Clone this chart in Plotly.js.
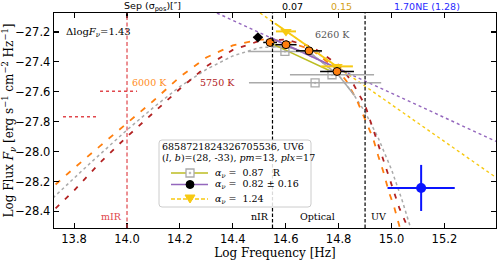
<!DOCTYPE html>
<html>
<head>
<meta charset="utf-8">
<script src="https://cdn.plot.ly/plotly-3.0.1.min.js"></script>
<style>html,body{margin:0;padding:0;background:#fff;} #chart{width:498px;height:261px;}</style>
</head>
<body>
<div id="chart"></div>
<script>
// ---- Blackbody-like model curves ----
const bb6260LogNu = [13.72, 13.85, 14.0, 14.1, 14.2, 14.3, 14.4, 14.5, 14.6, 14.7, 14.8, 14.85, 14.9, 14.95, 15.0, 15.04, 15.08];
const bb6260LogF  = [-28.31, -28.095, -27.855, -27.705, -27.565, -27.45, -27.36, -27.305, -27.295, -27.35, -27.49, -27.60, -27.735, -27.91, -28.12, -28.325, -28.555];
const bb6260SolidNu = [14.55, 14.6, 14.7, 14.8, 14.86];
const bb6260SolidF  = [-27.30, -27.295, -27.35, -27.49, -27.625];

const bb6000LogNu = [13.73, 13.8, 13.9, 14.0, 14.1, 14.2, 14.3, 14.4, 14.5, 14.6, 14.7, 14.8, 14.83, 14.87, 14.90, 14.93, 14.95, 14.97, 14.99, 15.01, 15.03, 15.04];
const bb6000LogF  = [-28.22, -28.11, -27.96, -27.81, -27.66, -27.50, -27.37, -27.29, -27.25, -27.26, -27.32, -27.46, -27.53, -27.66, -27.78, -27.91, -28.03, -28.14, -28.27, -28.37, -28.50, -28.57];

const bb5750LogNu = [13.73, 13.8, 13.9, 14.0, 14.1, 14.2, 14.3, 14.4, 14.5, 14.6, 14.7, 14.8, 14.85, 14.9, 14.94, 14.97, 15.0, 15.03, 15.06, 15.075];
const bb5750LogF  = [-28.38, -28.26, -28.07, -27.90, -27.74, -27.58, -27.43, -27.32, -27.26, -27.25, -27.30, -27.42, -27.53, -27.69, -27.90, -28.06, -28.23, -28.38, -28.50, -28.57];

// ---- Photometry ----
const optLogNu = [14.541, 14.601, 14.688, 14.794];
const optLogF  = [-27.270, -27.285, -27.326, -27.464];
const optErrNu = [0.026, 0.040, 0.049, 0.064];

const nirLogNu = [14.495];
const nirLogF  = [-27.236];
const nirErrNu = [0.017];

const rLogNu = [14.597, 14.775, 14.711];
const rLogF  = [-27.330, -27.486, -27.540];
const rErrNu = [0.14, 0.159, 0.25];

const triLogNu = [14.601, 14.794];
const triLogF  = [-27.196, -27.430];
const triErrNu = [0.038, 0.060];

const uvLogNu = [15.112];
const uvLogF  = [-28.243];
const uvErrNu = [0.127];
const uvErrF  = [0.154];

// ---- Power-law fits ----
const purpleDotNu = [14.34, 15.40];
const purpleDotF  = [-27.073, -27.935];
const purpleNu = [14.54, 14.83];
const purpleF  = [-27.236, -27.471];
const yellowDotNu = [14.503, 15.40];
const yellowDotF  = [-27.073, -28.179];
const yellowNu = [14.56, 14.83];
const yellowF  = [-27.143, -27.476];
const oliveNu = [14.547, 14.767];
const oliveF  = [-27.278, -27.459];

// upper-limit style dotted markers
const limit1Nu = [13.898, 14.038];
const limit1F  = [-27.596, -27.596];
const limit2Nu = [13.758, 13.887];
const limit2F  = [-27.767, -27.767];

const xTicks = [13.8, 14.0, 14.2, 14.4, 14.6, 14.8, 15.0, 15.2];
const yTicks = [-28.4, -28.2, -28.0, -27.8, -27.6, -27.4, -27.2];
const regionLines = [14.0, 14.55, 14.9];
const legendTitle = ['6858721824326705536, UV6', '(<i>l</i>, <i>b</i>)=(28, -33), <i>pm</i>=13, <i>plx</i>=17'];
const legendNames = ['<i>α<sub>ν</sub></i> =  0.87   R', '<i>α<sub>ν</sub></i> =  0.82 ± 0.16', '<i>α<sub>ν</sub></i> =  1.24'];

const SERIF = 'DejaVu Serif';
const SANS = 'DejaVu Sans';
const gold = '#f7c912';
const olive = '#bcbd22', purple = '#9467bd', grey = '#aaaaaa';

const traces = [
  {x: bb6260LogNu, y: bb6260LogF, mode: 'lines', line: {color: grey, width: 1.5, dash: 'dot'}},
  {x: bb5750LogNu, y: bb5750LogF, mode: 'lines', line: {color: '#b22222', width: 1.8, dash: '5px,8px'}},
  {x: bb6000LogNu, y: bb6000LogF, mode: 'lines', line: {color: '#ff7f0e', width: 1.8, dash: '6px,8px'}},
  {x: limit1Nu, y: limit1F, mode: 'lines', line: {color: '#e0474c', width: 1.4, dash: 'dot'}},
  {x: limit2Nu, y: limit2F, mode: 'lines', line: {color: '#e0474c', width: 1.4, dash: 'dot'}},
  {x: purpleDotNu, y: purpleDotF, mode: 'lines', line: {color: purple, width: 1.4, dash: 'dot'}},
  {x: yellowDotNu, y: yellowDotF, mode: 'lines', line: {color: gold, width: 1.4, dash: 'dot'}},
  {x: bb6260SolidNu, y: bb6260SolidF, mode: 'lines', line: {color: grey, width: 1.5}},
  {x: oliveNu, y: oliveF, mode: 'lines', line: {color: olive, width: 1.5}},
  {x: yellowNu, y: yellowF, mode: 'lines', line: {color: gold, width: 1.8}},
  {x: purpleNu, y: purpleF, mode: 'lines', line: {color: purple, width: 1.8}},
  {x: rLogNu, y: rLogF, mode: 'markers', marker: {symbol: 'square-open-dot', size: 8, color: grey, line: {width: 1.3}},
   error_x: {type: 'data', array: rErrNu, color: grey, thickness: 1.5, width: 0}},
  {x: triLogNu, y: triLogF, mode: 'markers', marker: {symbol: 'triangle-down', size: 10, color: gold},
   error_x: {type: 'data', array: triErrNu, color: gold, thickness: 2, width: 0}},
  {x: nirLogNu, y: nirLogF, mode: 'markers', marker: {symbol: 'diamond', size: 8, color: '#000'},
   error_x: {type: 'data', array: nirErrNu, color: '#000', thickness: 1.5, width: 0}},
  {x: optLogNu, y: optLogF, mode: 'markers', marker: {symbol: 'circle', size: 8, color: '#ff7f0e', line: {color: '#000', width: 1}},
   error_x: {type: 'data', array: optErrNu, color: '#000', thickness: 1.5, width: 0}},
  {x: uvLogNu, y: uvLogF, mode: 'markers', marker: {symbol: 'circle', size: 10, color: '#0a14ff'},
   error_x: {type: 'data', array: uvErrNu, color: '#0a14ff', thickness: 2, width: 0},
   error_y: {type: 'data', array: uvErrF, color: '#0a14ff', thickness: 2, width: 0}}
];

// pixel -> paper helpers for the hand-drawn legend box
const PX = v => (v - 54) / 442;
const PY = v => 1 - (v - 13) / 215;
const pshape = o => Object.assign({xref: 'paper', yref: 'paper'}, o);

const shapes = regionLines.map((v, i) => ({
  type: 'line', xref: 'x', yref: 'paper', x0: v, x1: v, y0: 0, y1: 1,
  line: {color: i === 0 ? '#e0474c' : '#000', width: 1.2, dash: i === 0 ? '4px,2.5px' : '3.5px,2px'}
}));

// legend frame
const L = 159, R = 311, T = 140, B = 207, r = 3;
shapes.push(pshape({type: 'path', layer: 'above',
  path: `M${PX(L + r)},${PY(T)} L${PX(R - r)},${PY(T)} Q${PX(R)},${PY(T)} ${PX(R)},${PY(T + r)} L${PX(R)},${PY(B - r)} Q${PX(R)},${PY(B)} ${PX(R - r)},${PY(B)} L${PX(L + r)},${PY(B)} Q${PX(L)},${PY(B)} ${PX(L)},${PY(B - r)} L${PX(L)},${PY(T + r)} Q${PX(L)},${PY(T)} ${PX(L + r)},${PY(T)} Z`,
  fillcolor: 'rgba(255,255,255,0.85)', line: {color: '#cccccc', width: 1}}));
const rowY = [173, 184.5, 199];
const kx0 = 171, kx1 = 208, kc = 190;
shapes.push(pshape({type: 'line', layer: 'above', x0: PX(kx0), x1: PX(kx1), y0: PY(rowY[0]), y1: PY(rowY[0]), line: {color: olive, width: 1.5}}));
shapes.push(pshape({type: 'rect', layer: 'above', x0: PX(kc - 4), x1: PX(kc + 4), y0: PY(rowY[0] - 4), y1: PY(rowY[0] + 4), fillcolor: '#fff', line: {color: grey, width: 1.3}}));
shapes.push(pshape({type: 'rect', layer: 'above', x0: PX(kc - 0.8), x1: PX(kc + 0.8), y0: PY(rowY[0] - 0.8), y1: PY(rowY[0] + 0.8), fillcolor: grey, line: {color: grey, width: 0.5}}));
shapes.push(pshape({type: 'line', layer: 'above', x0: PX(kx0), x1: PX(kx1), y0: PY(rowY[1]), y1: PY(rowY[1]), line: {color: purple, width: 1.5}}));
shapes.push(pshape({type: 'circle', layer: 'above', x0: PX(kc - 4), x1: PX(kc + 4), y0: PY(rowY[1] - 4), y1: PY(rowY[1] + 4), fillcolor: '#000', line: {color: '#000', width: 1}}));
shapes.push(pshape({type: 'line', layer: 'above', x0: PX(kx0), x1: PX(kx1), y0: PY(rowY[2]), y1: PY(rowY[2]), line: {color: gold, width: 1.5, dash: '4px,2px'}}));
shapes.push(pshape({type: 'path', layer: 'above',
  path: `M${PX(kc - 5)},${PY(rowY[2] - 4)} L${PX(kc + 5)},${PY(rowY[2] - 4)} L${PX(kc)},${PY(rowY[2] + 4)} Z`,
  fillcolor: gold, line: {color: gold, width: 1}}));

const ann = (x, y, text, opts) => Object.assign({x: x, y: y, text: text, showarrow: false,
  font: {family: SERIF, size: 9.5, color: '#000'}, xanchor: 'left', yanchor: 'middle'}, opts || {});
const pann = (px, py, text, opts) => ann(PX(px), PY(py), text, Object.assign({xref: 'paper', yref: 'paper'}, opts || {}));

const annotations = [
  ann(0.022, -27.205, 'Δlog<i>F<sub>ν</sub></i>=1.43', {xref: 'paper', font: {family: SERIF, size: 10, color: '#000'}}),
  ann(14.011, -27.539, '6000 K', {font: {family: SERIF, size: 9.5, color: '#ff8c1a'}}),
  ann(14.268, -27.539, '5750 K', {font: {family: SERIF, size: 9.5, color: '#b22222'}}),
  ann(14.703, -27.218, '6260 K', {font: {family: SERIF, size: 9.5, color: '#555555'}}),
  ann(13.99, -28.435, 'mIR', {xanchor: 'right', font: {family: SERIF, size: 9.5, color: '#e0474c'}}),
  ann(14.545, -28.435, 'nIR', {xanchor: 'right'}),
  ann(14.722, -28.435, 'Optical', {xanchor: 'center'}),
  ann(14.915, -28.435, 'UV'),
  ann(14.095, 1.028, 'Sep (σ<sub>pos</sub>)[″]', {yref: 'paper', xanchor: 'center', font: {family: SANS, size: 9.5, color: '#000'}}),
  ann(14.624, 1.028, '0.07', {yref: 'paper', xanchor: 'center', font: {family: SANS, size: 9.5, color: '#000'}}),
  ann(14.81, 1.028, '0.15', {yref: 'paper', xanchor: 'center', font: {family: SANS, size: 9.5, color: '#d4a017'}}),
  ann(15.134, 1.028, '1.70NE (1.28)', {yref: 'paper', xanchor: 'center', font: {family: SANS, size: 9.5, color: '#2a2aff'}}),
  pann(160, 146, legendTitle[0]),
  pann(160, 157.5, legendTitle[1]),
  pann(213, rowY[0], legendNames[0]),
  pann(213, rowY[1], legendNames[1]),
  pann(213, rowY[2], legendNames[2])
];

const axisCommon = {
  showgrid: false, zeroline: false, showline: true, linecolor: '#000', linewidth: 1.3,
  mirror: 'ticks', ticks: 'inside', ticklen: 5, tickwidth: 1.1, tickcolor: '#000',
  tickfont: {family: SANS, size: 11.5, color: '#000'}, tickformat: '.1f'
};

const layout = {
  width: 498, height: 261,
  margin: {l: 54, r: 2, t: 13, b: 33},
  paper_bgcolor: '#fff', plot_bgcolor: '#fff',
  showlegend: false,
  xaxis: Object.assign({}, axisCommon, {range: [13.724, 15.395], tickvals: xTicks,
    title: {text: 'Log Frequency [Hz]', font: {family: SERIF, size: 12, color: '#000'}, standoff: 2}}),
  yaxis: Object.assign({}, axisCommon, {range: [-28.511, -27.073], tickvals: yTicks,
    title: {text: 'Log Flux <i>F<sub>ν</sub></i> [erg s<sup>−1</sup> cm<sup>−2</sup> Hz<sup>−1</sup>]', font: {family: SERIF, size: 12, color: '#000'}, standoff: 4}}),
  shapes: shapes,
  annotations: annotations
};

Plotly.newPlot('chart', traces, layout, {staticPlot: true, displayModeBar: false});
</script>
</body>
</html>
